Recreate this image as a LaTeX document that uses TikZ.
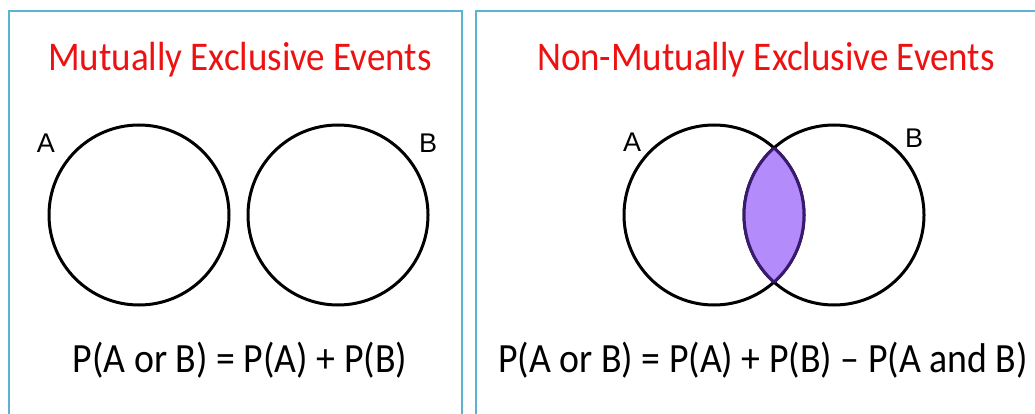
\documentclass[tikz,border=0pt]{standalone}
\usepackage{fontspec}
\usepackage{graphicx}
\newfontfamily\carl{Carlito}
\newfontfamily\arl{Liberation Sans}
\definecolor{panelblue}{HTML}{5AB4D0}
\definecolor{titlered}{HTML}{EE1111}
\definecolor{lensfill}{HTML}{B38BFA}
\definecolor{lensline}{HTML}{3A1A70}
\newcommand{\tall}[1]{\scalebox{1}[1.1]{#1}}
\tikzset{
  panel/.style={draw=panelblue, line width=2pt},
  title/.style={text=titlered, font=\carl\fontsize{37}{40}\selectfont, inner sep=0pt},
  formula/.style={text=black, font=\carl\fontsize{37.8}{40}\selectfont, inner sep=0pt},
  setlabel/.style={text=black, font=\arl\fontsize{27}{30}\selectfont, inner sep=0pt},
  venn/.style={draw=black, line width=3pt},
  lens/.style={fill=lensfill},
  lensedge/.style={draw=lensline, line width=3pt}
}
\begin{document}
\begin{tikzpicture}[x=1pt,y=-1pt]
\useasboundingbox (0,0) rectangle (1035,414);
\fill[white] (0,0) rectangle (1035,414);
% panels
\draw[panel] (9,11) rectangle (461.5,430);
\draw[panel] (475.5,11) rectangle (1050,430);
% titles
\node[title] (t1) at (240,60) {\tall{Mutually Exclusive Events}};
\node[title] (t2) at (766,60) {\tall{Non-Mutually Exclusive Events}};
% left Venn
\coordinate (lA) at (139,215);
\coordinate (lB) at (338,215);
\draw[venn] (lA) circle[radius=90pt];
\draw[venn] (lB) circle[radius=90pt];
\node[setlabel] (la) at (46,143) {A};
\node[setlabel] (lb) at (428,143) {B};
% right Venn
\coordinate (rA) at (714,215);
\coordinate (rB) at (834,215);
\draw[venn] (rA) circle[radius=90pt];
\draw[venn] (rB) circle[radius=90pt];
\begin{scope}
  \clip (rA) circle[radius=90pt];
  \fill[lens] (rB) circle[radius=90pt];
  \draw[lensedge] (rB) circle[radius=90pt];
\end{scope}
\begin{scope}
  \clip (rB) circle[radius=90pt];
  \draw[lensedge] (rA) circle[radius=90pt];
\end{scope}
\node[setlabel] (ra) at (632,142) {A};
\node[setlabel] (rb) at (914,138) {B};
% formulas
\node[formula] (f1) at (240,360) {\tall{P(A or B) = P(A) + P(B)}};
\node[formula] (f2) at (763,360) {\tall{P(A or B) = P(A) + P(B) – P(A and B)}};
\end{tikzpicture}
\end{document}
